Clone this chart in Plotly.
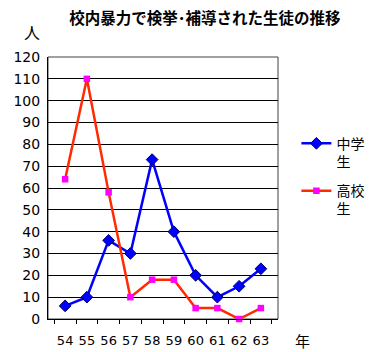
import plotly.graph_objects as go

years = ["54", "55", "56", "57", "58", "59", "60", "61", "62", "63"]
junior_high = [6, 10, 36, 30, 73, 40, 20, 10, 15, 23]
high_school = [64, 110, 58, 10, 18, 18, 5, 5, 0, 5]
y_ticks = list(range(0, 121, 10))

JP = "Noto Sans CJK JP"
NUM = "DejaVu Sans"
fig = go.Figure()
fig.add_trace(go.Scatter(
    x=years, y=junior_high, name="中学<br>生", mode="lines+markers", legendgroup="a",
    line=dict(color="#0000FF", width=2.5),
    marker=dict(symbol="diamond", size=9, color="#0000FF", line=dict(color="#000060", width=1)),
    cliponaxis=False,
))
fig.add_trace(go.Scatter(
    x=years, y=high_school, name="高校<br>生", mode="lines+markers", legendgroup="b",
    line=dict(color="#FF2A00", width=2.5),
    marker=dict(symbol="square", size=6.5, color="#FF00FF"),
    cliponaxis=False,
))
fig.update_layout(
    width=382, height=352,
    margin=dict(l=48, r=104, t=57, b=33),
    paper_bgcolor="white", plot_bgcolor="white",
    font=dict(family=NUM, size=14, color="black"),
    title=dict(text="<b>校内暴力で検挙･補導された生徒の推移</b>", x=205/382, xanchor="center",
               y=1 - 19/352, yanchor="middle", font=dict(family=JP, size=15.5)),
    showlegend=True,
    legend=dict(x=1.08, y=0.73, xanchor="left", yanchor="top", font=dict(family=JP, size=14),
                bgcolor="rgba(0,0,0,0)", tracegroupgap=8, itemwidth=30, valign="top"),
    xaxis=dict(type="category", tickson="boundaries", ticks="outside", ticklen=4, tickcolor="black",
               showgrid=False, showline=True, linecolor="black", linewidth=1, mirror=False,
               tickangle=0, automargin=False, tickfont=dict(family=NUM, size=13), ticklabelstandoff=9),
    yaxis=dict(range=[0, 120], tickvals=y_ticks, showgrid=True, gridcolor="black", gridwidth=1,
               showline=True, linecolor="black", linewidth=1, ticks="", zeroline=False,
               automargin=False, tickfont=dict(family=NUM, size=14), ticklabelstandoff=4),
)
# plot frame top/right in gray
fig.add_shape(type="rect", xref="paper", yref="paper", x0=0, x1=1, y0=0, y1=1,
              line=dict(color="#404040", width=1), layer="below")
fig.add_annotation(text="人", xref="paper", yref="paper", x=(32 - 48) / 230, y=1 + 25/262,
                   showarrow=False, font=dict(family=JP, size=16), xanchor="center", yanchor="middle")
fig.add_annotation(text="年", xref="paper", yref="paper", x=(302 - 48) / 230, y=-21/262,
                   showarrow=False, font=dict(family=JP, size=15), xanchor="center", yanchor="middle")
fig.write_html("out.html")
